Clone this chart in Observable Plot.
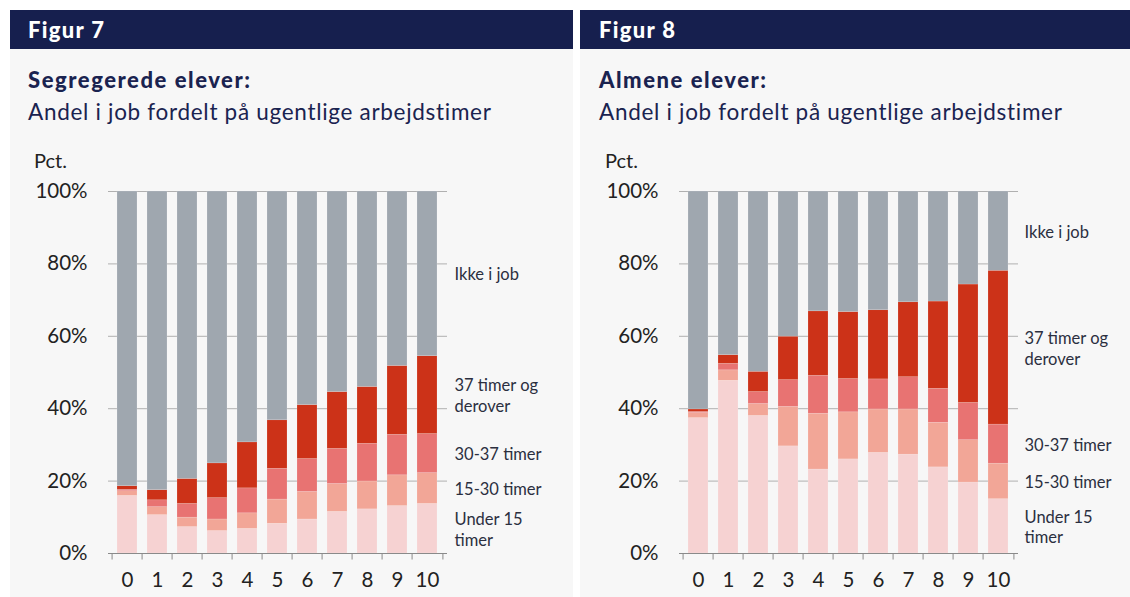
<!DOCTYPE html>
<html><head><meta charset="utf-8">
<script src="https://cdn.jsdelivr.net/npm/d3@7"></script>
<script src="https://cdn.jsdelivr.net/npm/@observablehq/plot@0.6"></script>
<style>
body{margin:0;background:#fff;width:1130px;height:597px;overflow:hidden;font-family:Lato,"Noto Sans",sans-serif;position:relative}
.panel{position:absolute;top:10px;height:587px;background:#f7f7f7}
.hdr{height:39px;background:#161f4e;color:#fff;font-weight:900;font-size:22px;letter-spacing:1.3px;line-height:40px;padding-left:18px}
.t1{position:absolute;left:18px;top:56px;font-weight:900;font-size:22px;letter-spacing:1.55px;color:#1a2350;white-space:nowrap}
.t2{position:absolute;left:18px;top:88px;font-size:22.5px;letter-spacing:0.7px;color:#1a2350;white-space:nowrap}
.pct{position:absolute;left:24px;top:138px;font-size:20px;color:#222;}
.chart{position:absolute;left:0;top:135px}
</style></head>
<body>
<div class="panel" id="p1" style="left:10px;width:563px">
  <div class="hdr">Figur 7</div>
  <div class="t1">Segregerede elever:</div>
  <div class="t2">Andel i job fordelt på ugentlige arbejdstimer</div>
  <div class="pct">Pct.</div>
  <div class="chart" id="c1"></div>
</div>
<div class="panel" id="p2" style="left:580px;width:550px">
  <div class="hdr" style="padding-left:19px">Figur 8</div>
  <div class="t1" style="left:19px">Almene elever:</div>
  <div class="t2" style="left:19px">Andel i job fordelt på ugentlige arbejdstimer</div>
  <div class="pct" style="left:25px">Pct.</div>
  <div class="chart" id="c2"></div>
</div>
<script>
const categories = ["0","1","2","3","4","5","6","7","8","9","10"];
const seriesNames = ["Under 15 timer","15-30 timer","30-37 timer","37 timer og derover","Ikke i job"];
const seriesLabels = ["Under 15\ntimer","15-30 timer","30-37 timer","37 timer og\nderover","Ikke i job"];
const seriesColors = ["#f6d2d2","#f2a697","#e87372","#cc3218","#9fa7af"];
const yTicks = [0,20,40,60,80,100];

// Figur 7: Segregerede elever
const seg_under15 = [15.9,10.6,7.3,6.2,6.8,8.2,9.4,11.5,12.2,13.1,13.7];
const seg_15_30   = [1.3,2.2,2.6,3.2,4.3,6.7,7.6,7.7,7.7,8.5,8.5];
const seg_30_37   = [0.4,1.9,3.8,5.9,6.9,8.5,9.1,9.7,10.4,11.2,10.8];
const seg_37plus  = [1.0,2.8,6.9,9.6,12.7,13.4,14.9,15.7,15.7,19.0,21.5];
const seg_ikke    = [81.4,82.5,79.4,75.1,69.3,63.2,59.0,55.4,54.0,48.2,45.5];

// Figur 8: Almene elever
const alm_under15 = [37.4,47.7,38.0,29.6,23.2,26.0,27.8,27.3,23.8,19.6,15.0];
const alm_15_30   = [1.4,2.9,3.3,10.9,15.4,13.0,12.0,12.5,12.3,11.7,9.8];
const alm_30_37   = [0.3,1.8,3.3,7.4,10.5,9.2,8.3,8.9,9.4,10.3,10.8];
const alm_37plus  = [0.7,2.4,5.6,12.0,17.8,18.5,19.1,20.7,24.1,32.7,42.5];
const alm_ikke    = [60.2,45.2,49.8,40.1,33.1,33.3,32.8,30.6,30.4,25.7,21.9];

function makeChart(series, width, marginLeft, marginRight, labelDx) {
  const rows = [];
  series.forEach((vals, si) => vals.forEach((v, i) => rows.push({cat: categories[i], series: seriesNames[si], value: v})));
  // label positions: midpoints of the segments in the last bar
  const last = categories.length - 1;
  let acc = 0;
  const labels = series.map((vals, si) => {
    const mid = acc + vals[last] / 2; acc += vals[last];
    return {cat: categories[last], y: mid, text: seriesLabels[si]};
  });
  const height = 452, marginTop = 46, marginBottom = 44;
  const step = (width - marginLeft - marginRight) / categories.length;
  return Plot.plot({
    width, height, marginLeft, marginRight, marginTop, marginBottom,
    style: {background: "transparent", fontFamily: "Lato, 'Noto Sans', sans-serif", color: "#222"},
    x: {domain: categories, paddingInner: 0.33, paddingOuter: 0.165, label: null},
    y: {domain: [0, 100], label: null},
    color: {domain: seriesNames, range: seriesColors},
    marks: [
      Plot.gridY(yTicks, {stroke: "#b0b0b0", strokeOpacity: 1, strokeWidth: 1}),
      Plot.barY(rows, Plot.stackY({x: "cat", y: "value", fill: "series", order: seriesNames, stroke: "#ffffff", strokeOpacity: 0.25, strokeWidth: 0.6})),
      Plot.ruleY([0], {stroke: "#8a8a8a", strokeWidth: 1}),
      Plot.ruleX(categories, {x: d => d, dx: -step / 2, y1: 0, y2: -1.8, stroke: "#8a8a8a"}),
      Plot.ruleX([categories[last]], {x: d => d, dx: step / 2, y1: 0, y2: -1.8, stroke: "#8a8a8a"}),
      Plot.axisY(yTicks, {tickFormat: d => d + "%", tickSize: 0, tickPadding: 21, fontSize: 20.5, fill: "#222", label: null}),
      Plot.axisX({tickSize: 0, tickPadding: 19, fontSize: 20.5, fill: "#222", label: null}),
      Plot.text(labels, {x: "cat", y: "y", text: "text", textAnchor: "start", dx: labelDx, fontSize: 16.5, lineHeight: 1.25, fill: "#2b2f3f", style: "letter-spacing:0.4px"})
    ]
  });
}

document.getElementById("c1").appendChild(
  makeChart([seg_under15, seg_15_30, seg_30_37, seg_37plus, seg_ikke], 563, 98, 126, 27));
document.getElementById("c2").appendChild(
  makeChart([alm_under15, alm_15_30, alm_30_37, alm_37plus, alm_ikke], 550, 99, 112, 26));
</script>
</body></html>
